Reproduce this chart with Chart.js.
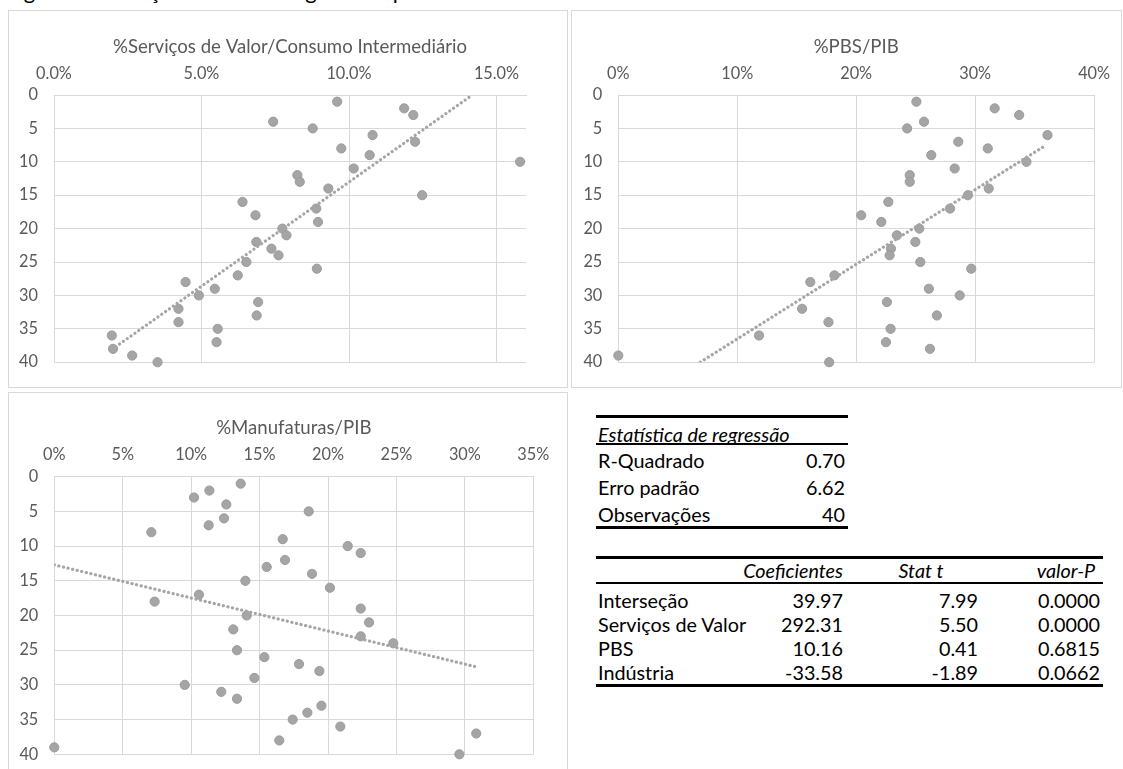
<!DOCTYPE html>
<html lang="pt">
<head>
<meta charset="utf-8">
<title>Ranking de complexidade</title>
<script src="https://cdn.jsdelivr.net/npm/chart.js@4.4.1/dist/chart.umd.min.js"></script>
<style>
  html, body { margin: 0; padding: 0; background: #fff; }
  body { width: 1123px; height: 769px; position: relative; overflow: hidden; font-family: Lato, "Noto Sans", sans-serif; }
  .caption { position: absolute; left: 6px; top: -22.5px; font-size: 22px; line-height: 26px; color: #000; white-space: nowrap; }
  .panel { position: absolute; border: 1px solid #d9d9d9; box-sizing: border-box; background: #fff; }
  .panel canvas { position: absolute; left: -1px; top: -1px; }
  .rule { position: absolute; background: #000; }
  .cell { position: absolute; font-size: 19.8px; line-height: 24px; height: 24px; color: #000; white-space: nowrap; }
  .right { text-align: right; width: 220px; }
  .center { text-align: center; width: 160px; }
  .it { font-style: italic; }
</style>
</head>
<body>
<div class="caption">Figura 3 – Relação entre ranking de complexidade e variáveis de interesse</div>

<div class="panel" style="left:8px; top:10px; width:560px; height:378px;">
  <canvas id="chartServicos" width="560" height="378"></canvas>
</div>
<div class="panel" style="left:571px; top:10px; width:551px; height:378px;">
  <canvas id="chartPbs" width="551" height="378"></canvas>
</div>
<div class="panel" style="left:8px; top:392px; width:560px; height:390px;">
  <canvas id="chartManuf" width="560" height="390"></canvas>
</div>

<div id="tables"></div>

<script>
// Ranking position of each economy (vertical axis, 1 = top)
const rankings = [1, 2, 3, 4, 5, 6, 7, 8, 9, 10,
                  11, 12, 13, 14, 15, 16, 17, 18, 19, 20,
                  21, 22, 23, 24, 25, 26, 27, 28, 29, 30,
                  31, 32, 33, 34, 35, 36, 37, 38, 39, 40];

// %Serviços de Valor / Consumo Intermediário, by ranking position (in %)
const servicosValor = [9.60, 11.87, 12.18, 7.43, 8.77, 10.80, 12.24, 9.74, 10.70, 15.80,
                       10.16, 8.25, 8.33, 9.30, 12.48, 6.39, 8.89, 6.83, 8.95, 7.74,
                       7.88, 6.86, 7.37, 7.61, 6.52, 8.91, 6.23, 4.46, 5.45, 4.91,
                       6.92, 4.22, 6.87, 4.22, 5.55, 1.96, 5.51, 2.00, 2.65, 3.51];

// %PBS / PIB, by ranking position (in %)
const pbsPib = [25.06, 31.64, 33.70, 25.70, 24.28, 36.08, 28.58, 31.06, 26.31, 34.31,
                28.28, 24.50, 24.50, 31.14, 29.39, 22.70, 27.89, 20.42, 22.11, 25.31,
                23.42, 24.97, 22.92, 22.81, 25.39, 29.67, 18.17, 16.14, 26.11, 28.70,
                22.58, 15.45, 26.78, 17.67, 22.89, 11.83, 22.50, 26.20, 0.00, 17.73];

// %Manufaturas / PIB, by ranking position (in %)
const manufaturasPib = [13.62, 11.33, 10.21, 12.57, 18.59, 12.40, 11.28, 7.09, 16.69, 21.44,
                        22.39, 16.86, 15.52, 18.83, 13.96, 20.14, 10.57, 7.33, 22.39, 14.06,
                        23.00, 13.08, 22.39, 24.77, 13.35, 15.35, 17.88, 19.37, 14.62, 9.53,
                        12.20, 13.35, 19.52, 18.49, 17.42, 20.90, 30.83, 16.44, 0.00, 29.60];

// Linear trend lines (end points, x in %, y = ranking)
const trendServicosX = [1.96, 14.18];
const trendServicosY = [38.1, 0];
const trendPbsX = [6.89, 35.87];
const trendPbsY = [40, 7.6];
const trendManufX = [0, 30.83];
const trendManufY = [12.7, 27.4];

// Regression summary
const regStatTitle = 'Estatística de regressão';
const regStatLabels = ['R-Quadrado', 'Erro padrão', 'Observações'];
const regStatValues = ['0.70', '6.62', '40'];
const coefHeaders = ['Coeficientes', 'Stat t', 'valor-P'];
const coefNames = ['Interseção', 'Serviços de Valor', 'PBS', 'Indústria'];
const coefValues = ['39.97', '292.31', '10.16', '-33.58'];
const coefTStats = ['7.99', '5.50', '0.41', '-1.89'];
const coefPValues = ['0.0000', '0.0000', '0.6815', '0.0662'];

const FONT = 'Lato, "Noto Sans", sans-serif';
const GRID = '#d9d9d9';
const TEXT_GREY = '#595959';
const MARK_GREY = '#a5a5a5';

function makeScatter(canvasId, cfg) {
  const el = document.getElementById(canvasId);
  const W = el.width, H = el.height;
  const a = cfg.area;
  const titleSize = 18.6, titleLH = 1.2;
  const titleCenter = a.t - 48.3;
  const titleTop = titleCenter - titleSize * titleLH / 2;
  const xAxisH = a.t - (titleCenter + titleSize * titleLH / 2);
  const tickSize = 16.3, tickLH = 1.2;
  const labelGap = 21.7;
  const onStep = v => Math.abs(v / cfg.xStep - Math.round(v / cfg.xStep)) < 1e-6;

  return new Chart(el, {
    type: 'scatter',
    data: {
      datasets: [
        {
          type: 'line',
          showLine: true,
          data: cfg.trendX.map((x, i) => ({ x: x, y: cfg.trendY[i] })),
          borderColor: MARK_GREY,
          borderWidth: 3.2,
          borderDash: [0.1, 4.6],
          borderCapStyle: 'round',
          pointRadius: 0,
          fill: false,
          tension: 0
        },
        {
          data: cfg.values.map((x, i) => ({ x: x, y: rankings[i] })),
          backgroundColor: MARK_GREY,
          borderColor: '#9b9b9b',
          borderWidth: 1,
          pointRadius: 4.6,
          pointHoverRadius: 4.6,
          clip: false
        }
      ]
    },
    options: {
      responsive: false,
      animation: false,
      devicePixelRatio: 1,
      events: [],
      layout: { padding: { left: 0, top: 0, right: W - a.r, bottom: H - a.b } },
      plugins: {
        legend: { display: false },
        tooltip: { enabled: false },
        title: {
          display: true,
          text: cfg.title,
          fullSize: false,
          color: TEXT_GREY,
          font: { family: FONT, size: titleSize, weight: 'normal', lineHeight: titleLH },
          padding: { top: titleTop, bottom: 0 }
        }
      },
      scales: {
        x: {
          type: 'linear',
          position: 'top',
          min: 0,
          max: cfg.xMax,
          afterBuildTicks: ax => { ax.ticks = ax.ticks.filter(t => onStep(t.value)); },
          afterFit: ax => { ax.height = xAxisH; },
          ticks: {
            stepSize: cfg.xStep,
            padding: labelGap - tickSize * tickLH / 2,
            color: TEXT_GREY,
            font: { family: FONT, size: tickSize, lineHeight: tickLH },
            maxRotation: 0,
            autoSkip: false,
            callback: v => v.toFixed(cfg.decimals) + '%'
          },
          grid: { color: GRID, lineWidth: 1, drawTicks: false },
          border: { color: GRID }
        },
        y: {
          type: 'linear',
          position: 'left',
          reverse: true,
          min: 0,
          max: 40,
          afterFit: ax => { ax.width = a.l; },
          ticks: {
            stepSize: 5,
            padding: 16,
            color: TEXT_GREY,
            font: { family: FONT, size: tickSize, lineHeight: tickLH }
          },
          grid: { color: GRID, lineWidth: 1, drawTicks: false },
          border: { color: GRID }
        }
      }
    }
  });
}

makeScatter('chartServicos', {
  title: '%Serviços de Valor/Consumo Intermediário',
  values: servicosValor,
  trendX: trendServicosX, trendY: trendServicosY,
  xMax: 16, xStep: 5, decimals: 1,
  area: { l: 46, t: 85, r: 518, b: 357.7 }
});

makeScatter('chartPbs', {
  title: '%PBS/PIB',
  values: pbsPib,
  trendX: trendPbsX, trendY: trendPbsY,
  xMax: 40, xStep: 10, decimals: 0,
  area: { l: 47.3, t: 85, r: 526.3, b: 357.7 }
});

makeScatter('chartManuf', {
  title: '%Manufaturas/PIB',
  values: manufaturasPib,
  trendX: trendManufX, trendY: trendManufY,
  xMax: 35, xStep: 5, decimals: 0,
  area: { l: 46.3, t: 84.7, r: 525.3, b: 362.3 }
});

// Regression tables
const host = document.getElementById('tables');
function rule(x1, x2, y, h) {
  const d = document.createElement('div');
  d.className = 'rule';
  d.style.left = x1 + 'px';
  d.style.width = (x2 - x1) + 'px';
  d.style.top = (y - h / 2) + 'px';
  d.style.height = h + 'px';
  host.appendChild(d);
}
function cell(text, x, cy, align, italic) {
  const d = document.createElement('div');
  d.className = 'cell' + (align === 'right' ? ' right' : align === 'center' ? ' center' : '') + (italic ? ' it' : '');
  d.textContent = text;
  let left = x;
  if (align === 'right') left = x - 220;
  if (align === 'center') left = x - 80;
  d.style.left = left + 'px';
  d.style.top = (cy - 12) + 'px';
  host.appendChild(d);
}

// Table 1: regression statistics
const t1 = { x1: 596, x2: 848, textL: 598, valR: 845 };
rule(t1.x1, t1.x2, 416, 3);
cell(regStatTitle, t1.textL, 434, 'left', true);
rule(t1.x1, t1.x2, 444, 1.5);
const t1Rows = [460, 487, 514];
regStatLabels.forEach((lab, i) => {
  cell(lab, t1.textL, t1Rows[i], 'left', false);
  cell(regStatValues[i], t1.valR, t1Rows[i], 'right', false);
});
rule(t1.x1, t1.x2, 527, 3);

// Table 2: coefficients
const t2 = { x1: 596, x2: 1103, textL: 598 };
const colRight = [843, 978, 1100];
const headCenter = [null, 921, 1066];
rule(t2.x1, t2.x2, 557, 3);
cell(coefHeaders[0], colRight[0], 570, 'right', true);
cell(coefHeaders[1], headCenter[1], 570, 'center', true);
cell(coefHeaders[2], headCenter[2], 570, 'center', true);
rule(t2.x1, t2.x2, 583, 1.5);
const t2Rows = [600, 624, 648, 672];
coefNames.forEach((name, i) => {
  cell(name, t2.textL, t2Rows[i], 'left', false);
  cell(coefValues[i], colRight[0], t2Rows[i], 'right', false);
  cell(coefTStats[i], colRight[1], t2Rows[i], 'right', false);
  cell(coefPValues[i], colRight[2], t2Rows[i], 'right', false);
});
rule(t2.x1, t2.x2, 685, 3);
</script>
</body>
</html>
